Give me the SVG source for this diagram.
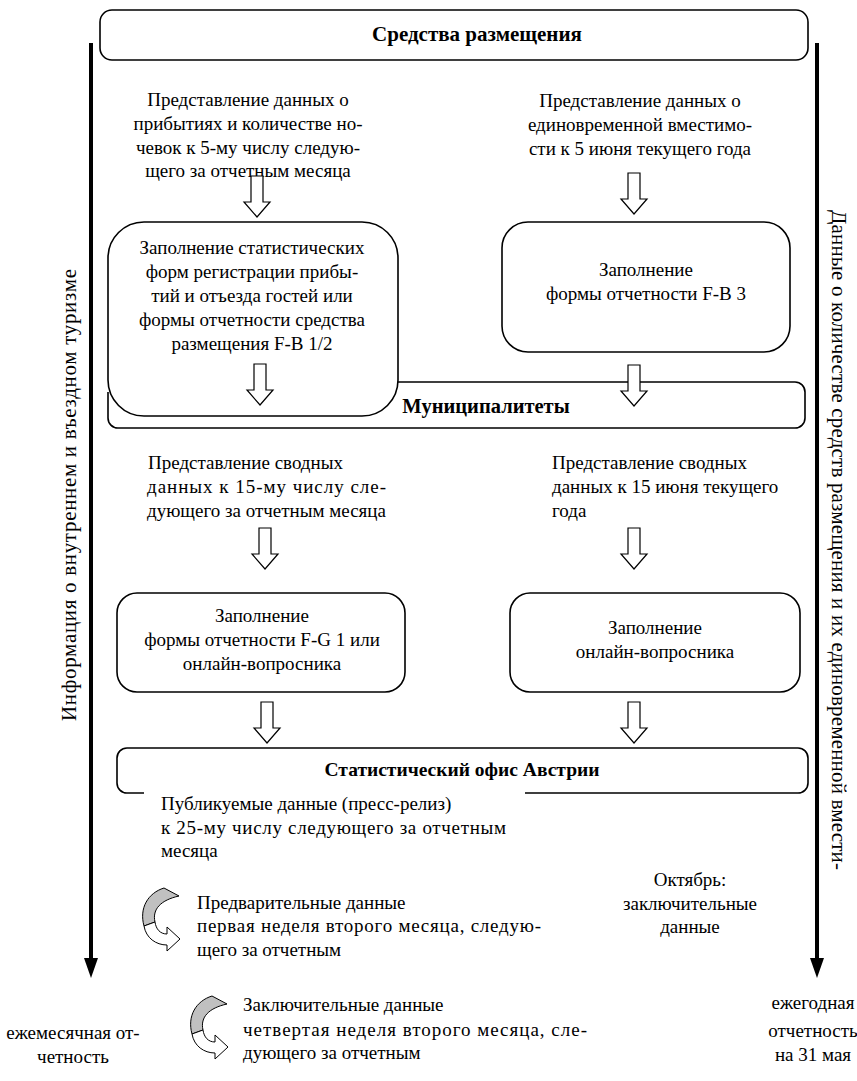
<svg xmlns="http://www.w3.org/2000/svg" width="857" height="1081" viewBox="0 0 857 1081" font-family="'Liberation Serif', 'Times New Roman', serif">
<defs>
<style>
.t{font-family:"Liberation Serif","Times New Roman",serif;font-size:19px;fill:#000}
.c{text-anchor:middle}
.b{font-weight:bold}
.box{fill:#fff;stroke:#000;stroke-width:1.6}
.ol{fill:none;stroke:#000;stroke-width:1.6}
.ba{fill:#fff;stroke:#000;stroke-width:1.2}
.vl{stroke:#000;stroke-width:4;fill:none}
.cg{fill:#c0c0c0;stroke:#000;stroke-width:1}
.cw{fill:#fff;stroke:#000;stroke-width:1}
</style>
<path id="da" d="M-6,0 H6 V26 H13 L0,41 L-13,26 H-6 Z"/>
</defs>
<rect width="857" height="1081" fill="#fff"/>

<g id="n-top">
<rect class="box" x="100" y="10" width="708" height="50" rx="12"/>
<text class="t c b" x="477" y="41" style="font-size:21px">Средства размещения</text>
</g>

<g id="n-text-l1">
<text class="t c" x="248" y="106">Представление данных о</text>
<text class="t c" x="248" y="130">прибытиях и количестве но-</text>
<text class="t c" x="248" y="154">чевок к 5-му числу следую-</text>
<text class="t c" x="248" y="177">щего за отчетным месяца</text>
</g>

<g id="n-text-r1">
<text class="t c" x="640" y="107">Представление данных о</text>
<text class="t c" x="640" y="131">единовременной вместимо-</text>
<text class="t c" x="640" y="155">сти к 5 июня текущего года</text>
</g>

<g id="n-box-l1">
<rect class="box" x="108" y="222" width="290" height="194" rx="36"/>
<text class="t c" x="252" y="254">Заполнение статистических</text>
<text class="t c" x="252" y="278">форм регистрации прибы-</text>
<text class="t c" x="252" y="302">тий и отъезда гостей или</text>
<text class="t c" x="252" y="326">формы отчетности средства</text>
<text class="t c" x="252" y="350">размещения F-B 1/2</text>
<use href="#da" class="ba" x="260" y="364"/>
</g>

<g id="n-box-r1">
<rect class="box" x="502" y="222" width="288" height="130" rx="26"/>
<text class="t c" x="646" y="276">Заполнение</text>
<text class="t c" x="646" y="300">формы отчетности F-B 3</text>
</g>

<g id="n-muni">
<path class="ol" d="M398,382 H795 A10,10 0 0 1 805,392 V418 A10,10 0 0 1 795,428 H118 A10,10 0 0 1 108,418 V392"/>
<text class="t c b" x="486" y="413" style="font-size:20.5px">Муниципалитеты</text>
</g>

<g id="n-text-l2">
<text class="t" x="148" y="469">Представление сводных</text>
<text class="t" x="147" y="493" textLength="239" lengthAdjust="spacing">данных к 15-му числу сле-</text>
<text class="t" x="147" y="517">дующего за отчетным месяца</text>
</g>

<g id="n-text-r2">
<text class="t" x="552" y="469">Представление сводных</text>
<text class="t" x="552" y="493">данных к 15 июня текущего</text>
<text class="t" x="552" y="517">года</text>
</g>

<g id="n-box-l2">
<rect class="box" x="117" y="593" width="288" height="99" rx="20"/>
<text class="t c" x="262" y="622">Заполнение</text>
<text class="t c" x="262" y="646">формы отчетности F-G 1 или</text>
<text class="t c" x="262" y="670">онлайн-вопросника</text>
</g>

<g id="n-box-r2">
<rect class="box" x="510" y="593" width="290" height="99" rx="20"/>
<text class="t c" x="655" y="634">Заполнение</text>
<text class="t c" x="655" y="658">онлайн-вопросника</text>
</g>

<g id="n-stat">
<path class="ol" d="M525,793 H798 A10,10 0 0 0 808,783 V758 A10,10 0 0 0 798,748 H127 A10,10 0 0 0 117,758 V783 A10,10 0 0 0 127,793 H144"/>
<text class="t c b" x="462" y="776" style="font-size:19.5px">Статистический офис Австрии</text>
</g>

<g id="n-pub">
<text class="t" x="161" y="810">Публикуемые данные (пресс-релиз)</text>
<text class="t" x="161" y="834" textLength="345" lengthAdjust="spacing">к 25-му числу следующего за отчетным</text>
<text class="t" x="161" y="857">месяца</text>
</g>

<g id="n-oct">
<text class="t c" x="690" y="886">Октябрь:</text>
<text class="t c" x="690" y="910">заключительные</text>
<text class="t c" x="690" y="933">данные</text>
</g>

<g id="n-prelim">
<path class="cg" d="M164,888 L179,896 C161,900 152,909 155,922 L144,926 C139,908 148,893 164,888 Z"/>
<path class="cw" d="M144,926 C146,938 156,945 167,945 L167,951 L180,939 L167,927 L167,934 C160,934 156,929 155,922 Z"/>
<text class="t" x="197" y="909">Предварительные данные</text>
<text class="t" x="197" y="932" textLength="344" lengthAdjust="spacing">первая неделя второго месяца, следую-</text>
<text class="t" x="197" y="956">щего за отчетным</text>
</g>

<g id="n-final">
<path class="cg" d="M212,996 L227,1004 C209,1008 200,1017 203,1030 L192,1034 C187,1016 196,1001 212,996 Z"/>
<path class="cw" d="M192,1034 C194,1046 204,1053 215,1053 L215,1059 L228,1047 L215,1035 L215,1042 C208,1042 204,1037 203,1030 Z"/>
<text class="t" x="243" y="1011">Заключительные данные</text>
<text class="t" x="243" y="1036" textLength="344" lengthAdjust="spacing">четвертая неделя второго месяца, сле-</text>
<text class="t" x="243" y="1059">дующего за отчетным</text>
</g>

<g id="n-monthly">
<text class="t c" x="73" y="1039">ежемесячная от-</text>
<text class="t c" x="73" y="1063">четность</text>
</g>

<g id="n-yearly">
<text class="t c" x="813" y="1009">ежегодная</text>
<text class="t c" x="813" y="1037">отчетность</text>
<text class="t c" x="813" y="1061">на 31 мая</text>
</g>

<g id="n-vleft">
<text class="t c" transform="translate(76,495) rotate(-90)" style="font-size:21px" textLength="452" lengthAdjust="spacing">Информация о внутреннем и въездном туризме</text>
</g>

<g id="n-vright">
<text class="t" transform="translate(832,210) rotate(90)" style="font-size:21px" textLength="660" lengthAdjust="spacing">Данные о количестве средств размещения и их единовременной вмести-</text>
</g>

<g id="connectors">
<line class="vl" x1="91" y1="43" x2="91" y2="962"/>
<path d="M84,958 L98,958 L91,978 Z" fill="#000"/>
<line class="vl" x1="817" y1="43" x2="817" y2="962"/>
<path d="M810,958 L824,958 L817,978 Z" fill="#000"/>
<use href="#da" class="ba" x="257" y="176"/>
<use href="#da" class="ba" x="634" y="173"/>
<use href="#da" class="ba" x="634" y="365"/>
<use href="#da" class="ba" x="265" y="528"/>
<use href="#da" class="ba" x="634" y="528"/>
<use href="#da" class="ba" x="267" y="702"/>
<use href="#da" class="ba" x="634" y="702"/>
</g>
</svg>
